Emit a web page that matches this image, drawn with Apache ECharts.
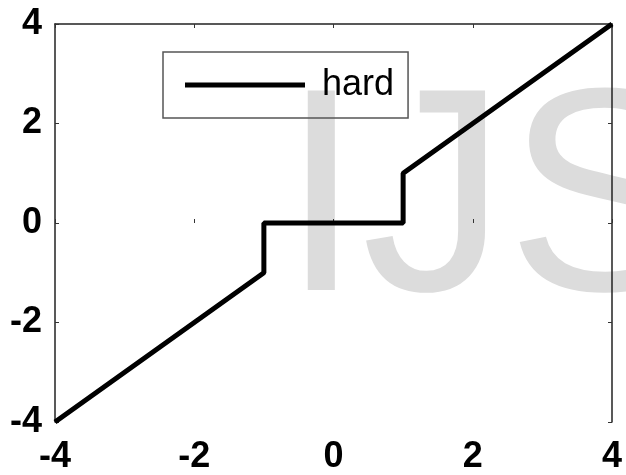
<!DOCTYPE html>
<html>
<head>
<meta charset="utf-8">
<script src="https://cdn.jsdelivr.net/npm/echarts@6/dist/echarts.min.js"></script>
<style>html,body{margin:0;padding:0;background:#fff;}#c{width:626px;height:475px;}</style>
</head>
<body>
<div id="c"></div>
<script>
const xValues = [-4, -1, -1, 1, 1, 4];
const yValues = [-4, -1, 0, 0, 1, 4];
const seriesName = 'hard';
const xTicks = [-4, -2, 0, 2, 4];
const yTicks = [-4, -2, 0, 2, 4];
const watermark = 'IJS';

const data = xValues.map((x, i) => [x, yValues[i]]);
const FONT = '"Liberation Sans", Arial, sans-serif';
const labelStyle = { fontFamily: FONT, fontWeight: 'bold', fontSize: 36, color: '#000' };

const chart = echarts.init(document.getElementById('c'), null, { renderer: 'canvas' });
chart.setOption({
  backgroundColor: '#fff',
  animation: false,
  grid: { left: 55, right: 14, top: 24, bottom: 48, containLabel: false },
  graphic: [{
    type: 'text', z: -10, silent: true,
    style: { text: watermark, x: 281, y: 210, font: '290px "Liberation Sans", Arial, sans-serif',
             fill: '#dcdcdc', textVerticalAlign: 'middle', textAlign: 'left' }
  }],
  legend: {
    show: true, left: 163, top: 52,
    data: [{ name: seriesName, icon: 'rect' }],
    itemWidth: 120, itemHeight: 5,
    padding: [15, 14, 15, 22],
    borderColor: '#555', borderWidth: 1.5, backgroundColor: 'transparent',
    textStyle: { fontFamily: FONT, fontSize: 36, color: '#000', padding: [0, 0, 0, 12] },
    itemStyle: { color: '#000' }
  },
  xAxis: [{
    type: 'value', min: -4, max: 4, interval: 2, position: 'bottom',
    axisLine: { show: false },
    axisTick: { show: true, inside: true, length: 4, lineStyle: { color: '#333', width: 1 } },
    splitLine: { show: false },
    axisLabel: Object.assign({ margin: 17, formatter: v => String(v) }, labelStyle)
  }, {
    type: 'value', min: -4, max: 4, interval: 2, position: 'top',
    axisLine: { show: true, onZero: false, lineStyle: { color: '#222', width: 1.5 } },
    axisTick: { show: true, inside: true, length: 4, lineStyle: { color: '#333', width: 1 } },
    splitLine: { show: false }, axisLabel: { show: false }
  }],
  yAxis: [{
    type: 'value', min: -4, max: 4, interval: 2, position: 'left',
    axisLine: { show: true, onZero: false, lineStyle: { color: '#222', width: 1.5 } },
    axisTick: { show: true, inside: true, length: 4, lineStyle: { color: '#333', width: 1 } },
    splitLine: { show: false },
    axisLabel: Object.assign({ margin: 13, formatter: v => String(v) }, labelStyle)
  }, {
    type: 'value', min: -4, max: 4, interval: 2, position: 'right',
    axisLine: { show: true, onZero: false, lineStyle: { color: '#222', width: 1.5 } },
    axisTick: { show: true, inside: true, length: 4, lineStyle: { color: '#333', width: 1 } },
    splitLine: { show: false }, axisLabel: { show: false }
  }],
  series: [{
    name: seriesName, type: 'line', data: data, z: 5,
    xAxisIndex: 0, yAxisIndex: 0,
    symbol: 'none', showSymbol: false,
    lineStyle: { color: '#000', width: 5 },
    itemStyle: { color: '#000' }
  }]
});
</script>
</body>
</html>
